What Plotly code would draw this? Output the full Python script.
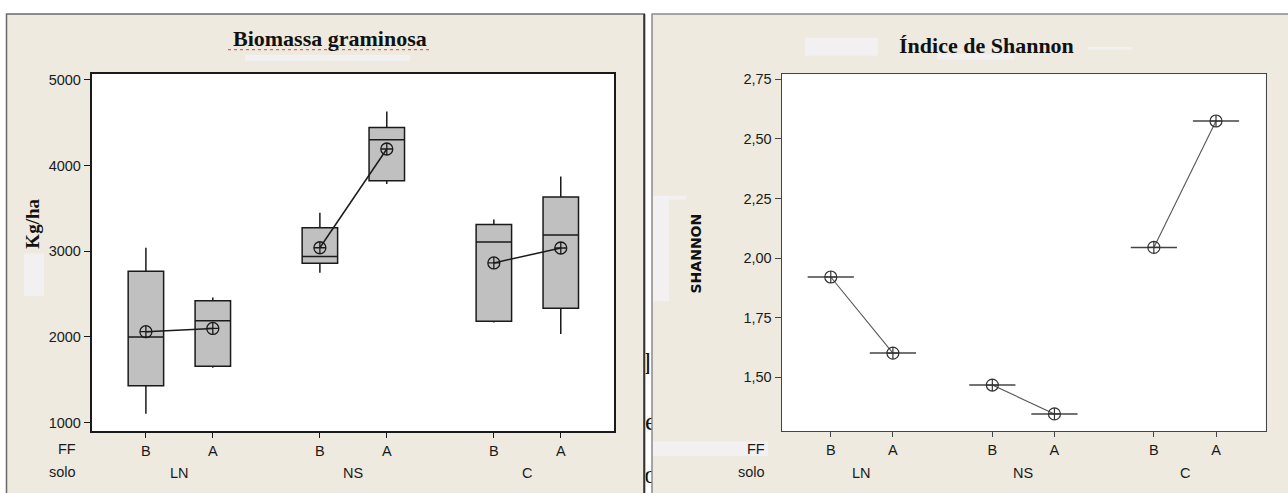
import plotly.graph_objects as go

# ---------------- data ----------------
solo = ["LN", "LN", "NS", "NS", "C", "C"]
ff = ["B", "A", "B", "A", "B", "A"]
groups = ["LN", "NS", "C"]

# Biomassa graminosa (Kg/ha) box statistics
bio_lower = [1104, 1640, 2750, 3786, 2170, 2034]
bio_q1 = [1430, 1659, 2861, 3822, 2184, 2335]
bio_median = [2000, 2189, 2938, 4302, 3108, 3189]
bio_q3 = [2768, 2424, 3275, 4445, 3313, 3632]
bio_upper = [3042, 2462, 3449, 4631, 3371, 3871]
bio_mean = [2062, 2100, 3041, 4193, 2864, 3038]

# Indice de Shannon
shannon = [1.921, 1.602, 1.468, 1.347, 2.045, 2.575]

bio_ticks = [1000, 2000, 3000, 4000, 5000]
bio_ticktext = ["1000", "2000", "3000", "4000", "5000"]
sh_ticks = [1.50, 1.75, 2.00, 2.25, 2.50, 2.75]
sh_ticktext = ["1,50", "1,75", "2,00", "2,25", "2,50", "2,75"]

# ---------------- layout constants ----------------
W, H = 1288, 493
POS = [0, 1, 2.6, 3.6, 5.2, 6.2]          # category slots on the x axis
GROUP_POS = [0.5, 3.1, 5.7]
BEIGE = "#EEEAE0"
SMUDGE = "rgba(242,241,243,0.85)"
TICKFONT = dict(family="Liberation Sans, Arial, sans-serif", size=14.5, color="#1a1a1a")


def fx(x):
    return x / W


def fy(y):
    return 1 - y / H


fig = go.Figure()

# ---- left: box plots ----
for i in range(len(ff)):
    fig.add_trace(go.Box(
        x=[POS[i]], q1=[bio_q1[i]], median=[bio_median[i]], q3=[bio_q3[i]],
        lowerfence=[bio_lower[i]], upperfence=[bio_upper[i]],
        width=0.53, whiskerwidth=0, boxpoints=False,
        fillcolor="#C0C0C0", line=dict(color="#1a1a1a", width=1.5),
        xaxis="x", yaxis="y", showlegend=False, hoverinfo="skip"))

for g in range(3):
    idx = [2 * g, 2 * g + 1]
    fig.add_trace(go.Scatter(
        x=[POS[k] for k in idx], y=[bio_mean[k] for k in idx],
        mode="lines+markers", xaxis="x", yaxis="y", showlegend=False,
        line=dict(color="#1a1a1a", width=1.5),
        marker=dict(symbol="circle-cross-open", size=12, color="#1a1a1a",
                    line=dict(width=1.3))))

# ---- right: Shannon means ----
for g in range(3):
    idx = [2 * g, 2 * g + 1]
    fig.add_trace(go.Scatter(
        x=[POS[k] for k in idx], y=[shannon[k] for k in idx],
        mode="lines", xaxis="x2", yaxis="y2", showlegend=False,
        line=dict(color="#555555", width=1.1)))
fig.add_trace(go.Scatter(
    x=POS, y=shannon, mode="markers", xaxis="x2", yaxis="y2", showlegend=False,
    marker=dict(symbol="line-ew", size=33, color="#444444",
                line=dict(width=1.5, color="#444444"))))
fig.add_trace(go.Scatter(
    x=POS, y=shannon, mode="markers", xaxis="x2", yaxis="y2", showlegend=False,
    marker=dict(symbol="circle-cross-open", size=12, color="#333333",
                line=dict(width=1.2))))

# ---- stray document characters between panels (clipped) ----
fig.add_trace(go.Scatter(
    x=[0.9, 5.4, 5.4], y=[363, 423, 476], text=["]", "e", "o"], mode="text",
    textposition="middle center", cliponaxis=True,
    textfont=dict(family="Liberation Serif, serif", size=26, color="#111111"),
    xaxis="x3", yaxis="y3", showlegend=False, hoverinfo="skip"))

axis_common = dict(showgrid=False, zeroline=False, showline=True, mirror=True,
                   ticks="outside", tickfont=TICKFONT)

fig.update_layout(
    width=W, height=H, margin=dict(l=0, r=0, t=0, b=0),
    paper_bgcolor="white", plot_bgcolor="rgba(0,0,0,0)",
    showlegend=False,
    xaxis=dict(domain=[fx(91.7), fx(614.3)], range=[-0.81, 7.0], anchor="y",
               tickvals=POS, ticktext=ff, ticklen=5, tickcolor="#1a1a1a",
               linecolor="#1a1a1a", linewidth=1.8, **axis_common),
    yaxis=dict(domain=[fy(431), fy(71)], range=[899, 5073], anchor="x",
               tickvals=bio_ticks, ticktext=bio_ticktext, ticklen=6,
               tickcolor="#1a1a1a", linecolor="#1a1a1a", linewidth=1.8,
               **axis_common),
    xaxis2=dict(domain=[fx(781.7), fx(1265.7)], range=[-0.79, 7.0], anchor="y2",
                tickvals=POS, ticktext=ff, ticklen=5, tickcolor="#444444",
                linecolor="#444444", linewidth=1.3, **axis_common),
    yaxis2=dict(domain=[fy(430.7), fy(71.7)], range=[1.275, 2.771], anchor="x2",
                tickvals=sh_ticks, ticktext=sh_ticktext, ticklen=6,
                tickcolor="#444444", linecolor="#444444", linewidth=1.3,
                **axis_common),
    xaxis3=dict(domain=[fx(645.6), fx(651.4)], range=[0, 6], anchor="y3",
                visible=False, fixedrange=True),
    yaxis3=dict(domain=[0, 1], range=[H, 0], anchor="x3", visible=False,
                fixedrange=True),
)

shapes = []
# panels
shapes.append(dict(type="rect", xref="paper", yref="paper", layer="below",
                   x0=fx(6.5), x1=fx(644.3), y0=fy(500), y1=fy(11),
                   fillcolor=BEIGE, line=dict(color="#6a6a6a", width=1.5)))
shapes.append(dict(type="line", xref="paper", yref="paper", layer="below",
                   x0=fx(644.3), x1=fx(644.3), y0=fy(500), y1=fy(11),
                   line=dict(color="#333333", width=2)))
shapes.append(dict(type="rect", xref="paper", yref="paper", layer="below",
                   x0=fx(652), x1=fx(1300), y0=fy(500), y1=fy(11),
                   fillcolor=BEIGE, line=dict(color="#8a8a8a", width=1.5)))
# smudges (erased text remnants)
for (x0, x1, y0, y1) in [(245, 410, 52, 58), (24, 44, 252, 295),
                         (805, 878, 35, 53), (937, 1014, 51, 57),
                         (1088, 1132, 44, 47), (653, 686, 194, 198),
                         (653, 669, 194, 300), (653, 768, 441, 456)]:
    shapes.append(dict(type="rect", xref="paper", yref="paper", layer="below",
                       x0=fx(x0), x1=fx(x1), y0=fy(y1), y1=fy(y0),
                       fillcolor=SMUDGE, line=dict(width=0)))
# white plotting areas
for xr, yr in [("x", "y"), ("x2", "y2")]:
    shapes.append(dict(type="rect", xref=xr + " domain", yref=yr + " domain",
                       layer="below", x0=0, x1=1, y0=0, y1=1,
                       fillcolor="white", line=dict(width=0)))
# spell-check squiggle under the left title
shapes.append(dict(type="line", xref="paper", yref="paper",
                   x0=fx(228), x1=fx(432), y0=fy(47), y1=fy(47),
                   line=dict(color="#E06060", width=1.2, dash="dot")))
fig.update_layout(shapes=shapes)

ann = []
ann.append(dict(text="<b>Biomassa graminosa</b>", xref="paper", yref="paper",
                x=fx(330), y=fy(35.5), showarrow=False, xanchor="center", yanchor="middle",
                font=dict(family="Liberation Serif, serif", size=22, color="#111111")))
ann.append(dict(text="<b>Índice de Shannon</b>", xref="paper", yref="paper",
                x=fx(986), y=fy(43), showarrow=False, xanchor="center", yanchor="middle",
                font=dict(family="Liberation Serif, serif", size=22, color="#111111")))
ann.append(dict(text="<b>Kg/ha</b>", xref="paper", yref="paper", textangle=-90,
                x=fx(33), y=fy(222), showarrow=False, xanchor="center", yanchor="middle",
                font=dict(family="Liberation Serif, serif", size=19, color="#111111")))
ann.append(dict(text="<b>SHANNON</b>", xref="paper", yref="paper", textangle=-90,
                x=fx(696), y=fy(252), showarrow=False, xanchor="center", yanchor="middle",
                font=dict(family="DejaVu Sans, sans-serif", size=14, color="#111111")))
for (xr, xff, xsolo) in [("x", 77.5, 77.5), ("x2", 767, 767)]:
    ann.append(dict(text="FF", xref="paper", yref="paper", x=fx(xff), y=fy(449),
                    showarrow=False, xanchor="right", yanchor="middle", font=TICKFONT))
    ann.append(dict(text="solo", xref="paper", yref="paper", x=fx(xsolo), y=fy(472),
                    showarrow=False, xanchor="right", yanchor="middle", font=TICKFONT))
    for gname, gp in zip(groups, GROUP_POS):
        ann.append(dict(text=gname, xref=xr, yref="paper", x=gp, y=fy(473),
                        showarrow=False, xanchor="center", yanchor="middle", font=TICKFONT))
fig.update_layout(annotations=ann)

fig.write_html(
    "out.html",
    config={"displayModeBar": False},
    post_script="document.body.style.margin='0';document.body.style.overflow='hidden';",
)
